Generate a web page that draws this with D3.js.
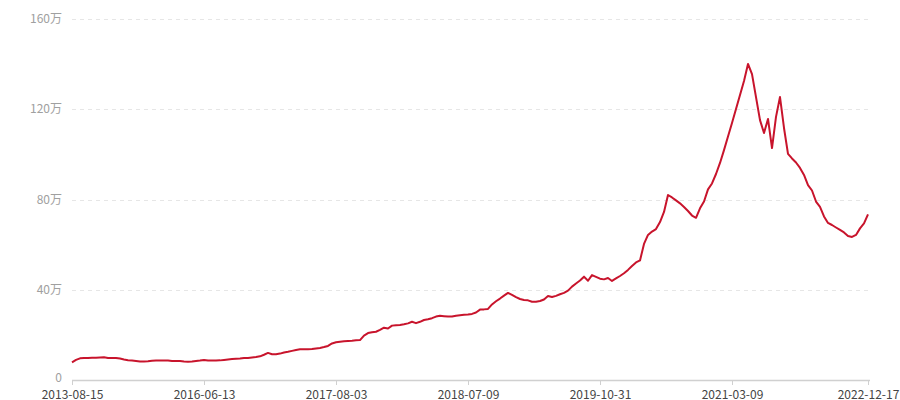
<!DOCTYPE html>
<html>
<head>
<meta charset="utf-8">
<script src="https://cdn.jsdelivr.net/npm/d3@7/dist/d3.min.js"></script>
<style>
  html, body { margin: 0; padding: 0; background: #fff; }
  svg { display: block; font-family: "Noto Sans CJK SC", "Noto Sans", sans-serif; }
</style>
</head>
<body>
<svg id="chart" width="900" height="400"></svg>
<script>
// values in 万
const values = [
  7.8, 8.9, 9.6, 9.7, 9.8, 9.9, 9.9, 10.0, 10.1, 9.8,
  9.8, 9.8, 9.5, 9.1, 8.8, 8.6, 8.4, 8.2, 8.2, 8.3,
  8.5, 8.6, 8.6, 8.6, 8.6, 8.4, 8.4, 8.4, 8.2, 8.1,
  8.2, 8.4, 8.6, 8.9, 8.6, 8.6, 8.6, 8.7, 8.9, 9.1,
  9.3, 9.4, 9.5, 9.7, 9.8, 10.0, 10.2, 10.5, 11.2, 12.0,
  11.4, 11.4, 11.7, 12.2, 12.5, 12.9, 13.3, 13.6, 13.6, 13.6,
  13.7, 14.0, 14.2, 14.6, 15.1, 16.2, 16.7, 17.0, 17.2, 17.3,
  17.4, 17.6, 17.7, 19.7, 20.8, 21.2, 21.4, 22.2, 23.2, 22.8,
  24.1, 24.3, 24.4, 24.7, 25.1, 25.8, 25.2, 25.8, 26.6, 26.9,
  27.4, 28.1, 28.5, 28.3, 28.1, 28.1, 28.5, 28.7, 28.9, 29.0,
  29.3, 29.9, 31.2, 31.3, 31.5, 33.5, 34.9, 36.1, 37.4, 38.6,
  37.7, 36.7, 35.9, 35.5, 35.3, 34.7, 34.7, 35.0, 35.7, 37.2,
  36.8, 37.3, 38.0, 38.6, 39.6, 41.4, 42.8, 44.1, 45.8, 44.0,
  46.5, 45.7, 44.9, 44.6, 45.2, 43.9, 45.0, 46.1, 47.3, 48.8,
  50.5, 52.1, 53.0, 60.3, 64.3, 65.8, 66.9, 70.0, 74.5, 82.0,
  80.9, 79.6, 78.3, 76.7, 74.9, 72.9, 71.9, 76.1, 79.1, 84.5,
  87.1, 91.3, 96.2, 101.9, 107.9, 113.9, 120.1, 126.3, 132.5, 140.1,
  135.6, 125.4, 115.2, 109.5, 115.7, 102.8, 116.6, 125.4, 111.7, 100.2,
  98.2, 96.4, 94.0, 90.9, 86.4, 84.0, 79.1, 76.7, 72.5, 69.6,
  68.7, 67.6, 66.5, 65.4, 63.8, 63.4, 64.3, 67.2, 69.4, 73.4
];
const tickIndex = [0, 33, 66, 99, 132, 165, 199];
const tickLabels = ["2013-08-15", "2016-06-13", "2017-08-03", "2018-07-09", "2019-10-31", "2021-03-09", "2022-12-17"];
const yTicks = [0, 40, 80, 120, 160];

const svg = d3.select("#chart");
const x = d3.scaleLinear().domain([0, values.length - 1]).range([72, 868]);
const y = d3.scaleLinear().domain([0, 160]).range([380, 19]);

// grid lines
svg.append("g").selectAll("line")
  .data(yTicks.filter(d => d > 0))
  .join("line")
  .attr("x1", 72).attr("x2", 870)
  .attr("y1", d => Math.round(y(d)) + 0.5).attr("y2", d => Math.round(y(d)) + 0.5)
  .attr("stroke", "#e6e6e6").attr("stroke-width", 1)
  .attr("stroke-dasharray", "4,4");

// y labels
svg.append("g").selectAll("text")
  .data(yTicks)
  .join("text")
  .attr("x", 62)
  .attr("y", d => d === 0 ? y(d) - 2 : y(d))
  .attr("dy", "0.35em")
  .attr("text-anchor", "end")
  .attr("fill", "#a0a0a0")
  .attr("font-size", 12)
  .text(d => d === 0 ? "0" : d + "万");

// x axis line
svg.append("line")
  .attr("x1", 72).attr("x2", 870)
  .attr("y1", 380.5).attr("y2", 380.5)
  .attr("stroke", "#d0d0d0").attr("stroke-width", 1.5);

const xt = svg.append("g").selectAll("g")
  .data(tickIndex)
  .join("g")
  .attr("transform", d => `translate(${Math.round(x(d)) + 0.5},0)`);
xt.append("line").attr("y1", 380).attr("y2", 385).attr("stroke", "#d0d0d0").attr("stroke-width", 1);
xt.append("text")
  .attr("y", 398.5)
  .attr("text-anchor", "middle")
  .attr("fill", "#444")
  .attr("font-size", 12)
  .text((d, i) => tickLabels[i]);

// line
const line = d3.line().x((d, i) => x(i)).y(d => y(d));
svg.append("path")
  .datum(values)
  .attr("d", line)
  .attr("fill", "none")
  .attr("stroke", "#c8142c")
  .attr("stroke-width", 2)
  .attr("stroke-linejoin", "round");
</script>
</body>
</html>
